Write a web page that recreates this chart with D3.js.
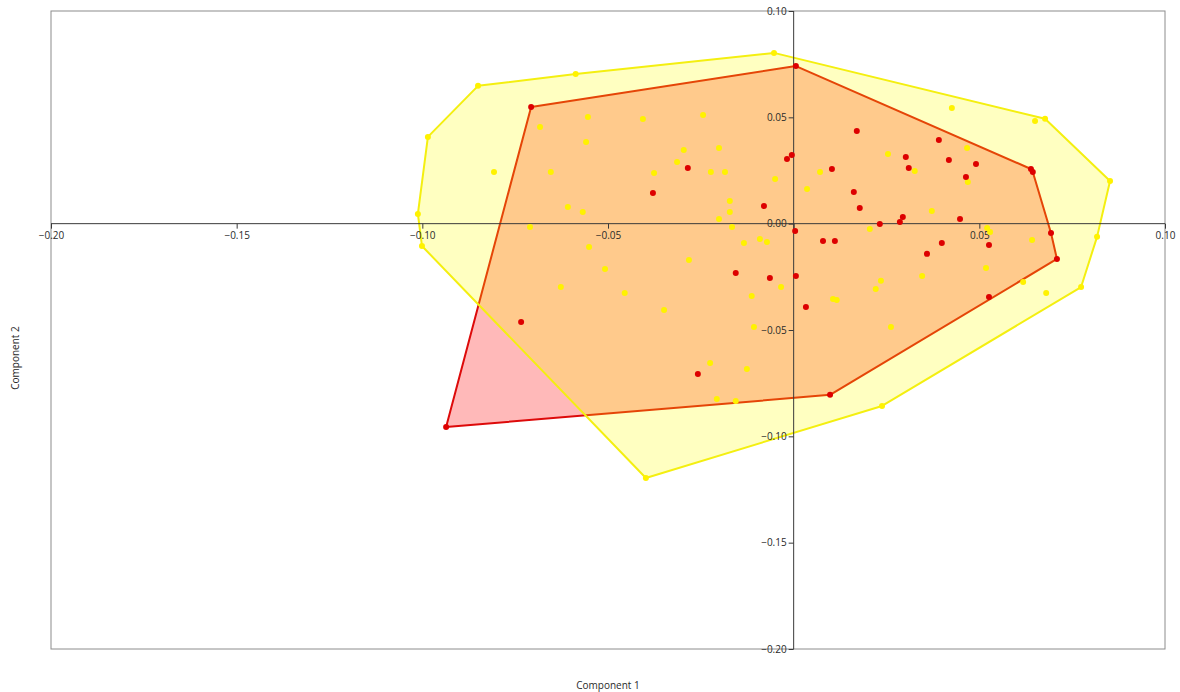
<!DOCTYPE html>
<html>
<head>
<meta charset="utf-8">
<script src="https://cdn.jsdelivr.net/npm/d3@7"></script>
<style>
  html, body { margin: 0; padding: 0; background: #fff; }
  svg { display: block; font-family: "Open Sans", "Noto Sans", sans-serif; }
</style>
</head>
<body>
<svg id="chart" width="1180" height="692"></svg>
<script>
// Group A (red) scores on the first two components
const groupAx = [-0.0707, 0.0006, 0.0639, 0.0644, 0.0693, 0.0709, 0.0098, -0.0936,
  -0.0734, -0.0379, -0.0285, -0.0018, -0.0005, -0.0080, 0.0004, -0.0156, -0.0064, 0.0006,
  0.0033, -0.0258, 0.0170, 0.0391, 0.0302, 0.0418, 0.0491, 0.0103, 0.0310, 0.0464, 0.0162,
  0.0178, 0.0294, 0.0232, 0.0286, 0.0448, 0.0079, 0.0111, 0.0399, 0.0359, 0.0526, 0.0526];
const groupAy = [0.0549, 0.0741, 0.0257, 0.0243, -0.0044, -0.0166, -0.0805, -0.0956,
  -0.0462, 0.0144, 0.0262, 0.0304, 0.0323, 0.0083, -0.0034, -0.0232, -0.0255, -0.0246,
  -0.0392, -0.0707, 0.0436, 0.0394, 0.0314, 0.0299, 0.0281, 0.0257, 0.0262, 0.0220, 0.0149,
  0.0074, 0.0031, -0.0001, 0.0008, 0.0022, -0.0081, -0.0081, -0.0091, -0.0142, -0.0100, -0.0345];

// Group B (yellow) scores on the first two components
const groupBx = [-0.0053, -0.0587, -0.0850, -0.0985, -0.1012, -0.1001, -0.0398, 0.0238,
  0.0774, 0.0817, 0.0852, 0.0677, 0.0650, 0.0426,
  -0.0807, -0.0683, -0.0554, -0.0559, -0.0406, -0.0654, -0.0608, -0.0568, -0.0710, -0.0551,
  -0.0508, -0.0627, -0.0455, -0.0349, -0.0244, -0.0296, -0.0201, -0.0314, -0.0376, -0.0223,
  -0.0185, -0.0050, 0.0036, -0.0172, -0.0172, -0.0201, -0.0166, -0.0134, -0.0091, -0.0072,
  -0.0282, -0.0113, -0.0034, -0.0107, -0.0225, -0.0126, -0.0207, -0.0156, 0.0071, 0.0254,
  0.0467, 0.0326, 0.0469, 0.0372, 0.0205, 0.0521, 0.0529, 0.0642, 0.0518, 0.0618, 0.0680,
  0.0346, 0.0235, 0.0221, 0.0106, 0.0116, 0.0262];
const groupBy = [0.0803, 0.0704, 0.0648, 0.0408, 0.0046, -0.0105, -0.1196, -0.0857,
  -0.0298, -0.0062, 0.0201, 0.0493, 0.0483, 0.0544,
  0.0243, 0.0455, 0.0502, 0.0384, 0.0492, 0.0243, 0.0078, 0.0055, -0.0016, -0.0110,
  -0.0213, -0.0298, -0.0326, -0.0406, 0.0511, 0.0346, 0.0356, 0.0290, 0.0238, 0.0243,
  0.0243, 0.0210, 0.0163, 0.0107, 0.0055, 0.0022, -0.0016, -0.0091, -0.0072, -0.0086,
  -0.0171, -0.0340, -0.0298, -0.0486, -0.0655, -0.0683, -0.0824, -0.0834, 0.0243, 0.0328,
  0.0356, 0.0248, 0.0196, 0.0060, -0.0025, -0.0020, -0.0039, -0.0077, -0.0208, -0.0274, -0.0326,
  -0.0246, -0.0269, -0.0307, -0.0354, -0.0359, -0.0486];

const xTicks = [-0.20, -0.15, -0.10, -0.05, 0.00, 0.05, 0.10];
const yTicks = [0.10, 0.05, 0.00, -0.05, -0.10, -0.15, -0.20];
const xTitle = "Component 1";
const yTitle = "Component 2";

const svg = d3.select("#chart");
const plot = { left: 51, right: 1165, top: 11, bottom: 649 };

const x = d3.scaleLinear().domain([-0.20, 0.10]).range([plot.left, plot.right]);
const y = d3.scaleLinear().domain([-0.20, 0.10]).range([plot.bottom, plot.top]);

const ptsA = groupAx.map((v, i) => [x(v), y(groupAy[i])]);
const ptsB = groupBx.map((v, i) => [x(v), y(groupBy[i])]);

// plot frame
svg.append("rect")
  .attr("x", plot.left).attr("y", plot.top)
  .attr("width", plot.right - plot.left).attr("height", plot.bottom - plot.top)
  .attr("fill", "none").attr("stroke", "#8c8c8c").attr("stroke-width", 1);

// convex hulls: red group under the translucent yellow group
const hullA = d3.polygonHull(ptsA);
const hullB = d3.polygonHull(ptsB);

svg.append("path")
  .attr("d", "M" + hullA.join("L") + "Z")
  .attr("fill", "rgba(255,0,0,0.275)")
  .attr("stroke", "#dd0a0a").attr("stroke-width", 2)
  .attr("stroke-linejoin", "round");

svg.append("path")
  .attr("d", "M" + hullB.join("L") + "Z")
  .attr("fill", "rgba(255,255,0,0.245)")
  .attr("stroke", "#f4ef10").attr("stroke-width", 2)
  .attr("stroke-linejoin", "round");

// zero-crossing axes
const fmt = d3.format(".2f");
const xAxis = d3.axisBottom(x).tickValues(xTicks).tickSize(5).tickPadding(3)
  .tickFormat(d => d === 0 ? "" : fmt(d));
const yAxis = d3.axisLeft(y).tickValues(yTicks).tickSize(5).tickPadding(2)
  .tickFormat(fmt);

const gx = svg.append("g").attr("transform", `translate(0,${y(0)})`).call(xAxis);
const gy = svg.append("g").attr("transform", `translate(${x(0)},0)`).call(yAxis);
[gx, gy].forEach(g => {
  g.select(".domain").attr("stroke", "#3a3a3a").attr("stroke-width", 1);
  g.selectAll(".tick line").attr("stroke", "#3a3a3a");
  g.selectAll(".tick text")
    .attr("fill", "#2a2a2a")
    .style("font-size", "10px")
    .style("font-family", "'Open Sans', 'Noto Sans', sans-serif");
});
gx.select(".domain").attr("d", `M${plot.left},0H${plot.right}`);
gy.select(".domain").attr("d", `M0,${plot.top}V${plot.bottom}`);

// points
svg.append("g").selectAll("circle").data(ptsB).join("circle")
  .attr("cx", d => d[0]).attr("cy", d => d[1]).attr("r", 3)
  .attr("fill", "#fff200");
svg.append("g").selectAll("circle").data(ptsA).join("circle")
  .attr("cx", d => d[0]).attr("cy", d => d[1]).attr("r", 3)
  .attr("fill", "#dd0000");

// axis titles
svg.append("text")
  .attr("x", 608).attr("y", 689)
  .attr("text-anchor", "middle")
  .attr("fill", "#2a2a2a")
  .style("font-size", "10px")
  .text(xTitle);
svg.append("text")
  .attr("transform", `translate(19,${(plot.top + plot.bottom) / 2 + 28}) rotate(-90)`)
  .attr("text-anchor", "middle")
  .attr("fill", "#2a2a2a")
  .style("font-size", "10px")
  .text(yTitle);
</script>
</body>
</html>
